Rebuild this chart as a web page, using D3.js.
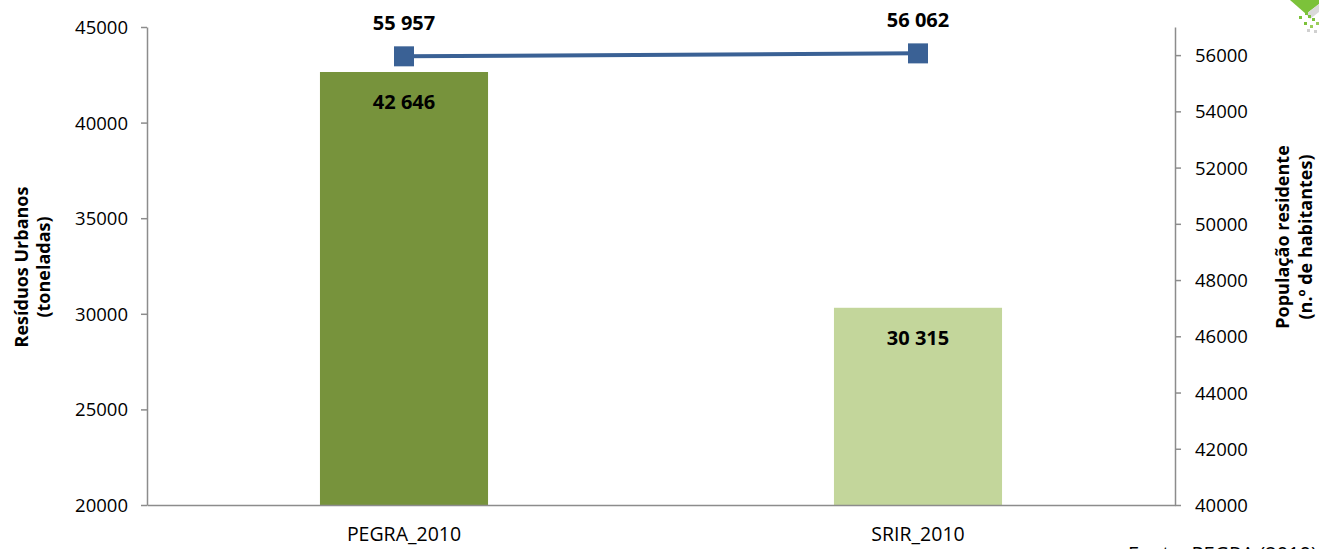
<!DOCTYPE html>
<html><head><meta charset="utf-8">
<script src="https://cdn.jsdelivr.net/npm/d3@7"></script>
<style>body{margin:0;background:#fff}svg{display:block}text{font-family:"Open Sans","Noto Sans",sans-serif}</style>
</head><body><svg id="c" width="1319" height="549"></svg>
<script>
const categories = ["PEGRA_2010", "SRIR_2010"];
const residuos = [42646, 30315];
const populacao = [55957, 56062];
const residuosLabels = ["42 646", "30 315"];
const populacaoLabels = ["55 957", "56 062"];
const leftTicks = [20000, 25000, 30000, 35000, 40000, 45000];
const rightTicks = [40000, 42000, 44000, 46000, 48000, 50000, 52000, 54000, 56000];
const barColors = ["#77933C", "#C3D69B"];

const svg = d3.select("#c");
const L = 147, R = 1175, T = 27, B = 505;
const x = d3.scaleBand().domain(categories).range([L, R]);
const yL = d3.scaleLinear().domain([20000, 45000]).range([B, T]);
const yR = d3.scaleLinear().domain([40000, 57000]).range([B, T]);
const axisColor = "#8c8c8c";

// bars
const bw = x.bandwidth() * 0.327;
svg.selectAll("rect.bar").data(categories).enter().append("rect")
  .attr("x", d => x(d) + x.bandwidth()/2 - bw/2)
  .attr("y", (d,i) => yL(residuos[i]))
  .attr("width", bw)
  .attr("height", (d,i) => B - yL(residuos[i]))
  .attr("fill", (d,i) => barColors[i]);

// left axis
const gL = svg.append("g").attr("transform", `translate(${L},0)`)
  .call(d3.axisLeft(yL).tickValues(leftTicks).tickSize(6).tickSizeOuter(0).tickFormat(d3.format("d")));
// right axis
const gR = svg.append("g").attr("transform", `translate(${R},0)`)
  .call(d3.axisRight(yR).tickValues(rightTicks).tickSize(6).tickSizeOuter(0).tickFormat(d3.format("d")));
// bottom axis
const gB = svg.append("g").attr("transform", `translate(0,${B})`)
  .call(d3.axisBottom(x).tickSize(0).tickSizeOuter(0));
[gL, gR, gB].forEach(g => {
  g.selectAll("path,line").attr("stroke", axisColor).attr("stroke-width", 1.5);
  g.selectAll("text").attr("font-size", 18.5).attr("fill", "#000")
    .style("font-family", '"Open Sans","Noto Sans",sans-serif');
});
gL.selectAll("text").attr("x", -19).attr("dy", "0.35em");
gR.selectAll("text").attr("x", 20).attr("dy", "0.35em");
gB.selectAll("text").attr("y", 22).attr("font-size", 19.5);

// line
const cx = d => x(d) + x.bandwidth()/2;
svg.append("path")
  .datum(categories)
  .attr("d", d3.line().x(d => cx(d)).y((d,i) => yR(populacao[i])))
  .attr("fill", "none").attr("stroke", "#3A6195").attr("stroke-width", 4);
svg.selectAll("rect.mk").data(categories).enter().append("rect")
  .attr("x", d => cx(d) - 10).attr("y", (d,i) => yR(populacao[i]) - 10)
  .attr("width", 20).attr("height", 20).attr("fill", "#3A6195");

// labels
svg.selectAll("text.bl").data(categories).enter().append("text")
  .attr("x", d => cx(d)).attr("y", (d,i) => yL(residuos[i]) + 37)
  .attr("text-anchor", "middle").attr("font-size", 20).attr("font-weight", "bold")
  .text((d,i) => residuosLabels[i]);
svg.selectAll("text.pl").data(categories).enter().append("text")
  .attr("x", d => cx(d)).attr("y", (d,i) => yR(populacao[i]) - 26)
  .attr("text-anchor", "middle").attr("font-size", 20).attr("font-weight", "bold")
  .text((d,i) => populacaoLabels[i]);

// axis titles
const tl = svg.append("text").attr("transform", "translate(0,267) rotate(-90)")
  .attr("text-anchor", "middle").attr("font-size", 18).attr("font-weight", "bold");
tl.append("tspan").attr("x", 0).attr("y", 28).text("Resíduos  Urbanos");
tl.append("tspan").attr("x", 0).attr("y", 50).text("(toneladas)");
const tr = svg.append("text").attr("transform", "translate(0,237) rotate(-90)")
  .attr("text-anchor", "middle").attr("font-size", 18).attr("font-weight", "bold");
tr.append("tspan").attr("x", 0).attr("y", 1289).text("População  residente");
tr.append("tspan").attr("x", 0).attr("y", 1312).text("(n.º de habitantes)");

// cut-off source note (as in the reference, only its top edge is visible)
svg.append("text").attr("x", 1128).attr("y", 561).attr("font-size", 20).text("Fonte: PEGRA (2010)");

// corner logo fragment
const logo = svg.append("g");
logo.append("path").attr("d", "M1290,0 L1319,0 L1319,4 L1306,14 Z").attr("fill", "#7CC23A");
logo.append("path").attr("d", "M1306,14 L1319,4 L1319,12 L1310,19 Z").attr("fill", "#D9D9D9");
[[1299,16,"#7CC23A"],[1305,12,"#7CC23A"],[1308,15,"#7CC23A"],[1304,22,"#7CC23A"],[1312,18,"#7CC23A"],[1310,25,"#9ACD5A"],[1316,22,"#9ACD5A"],[1307,29,"#D0D0D0"],[1314,30,"#D0D0D0"]].forEach(p =>
  logo.append("rect").attr("x", p[0]).attr("y", p[1]).attr("width", 3).attr("height", 3).attr("fill", p[2]));
</script></body></html>
